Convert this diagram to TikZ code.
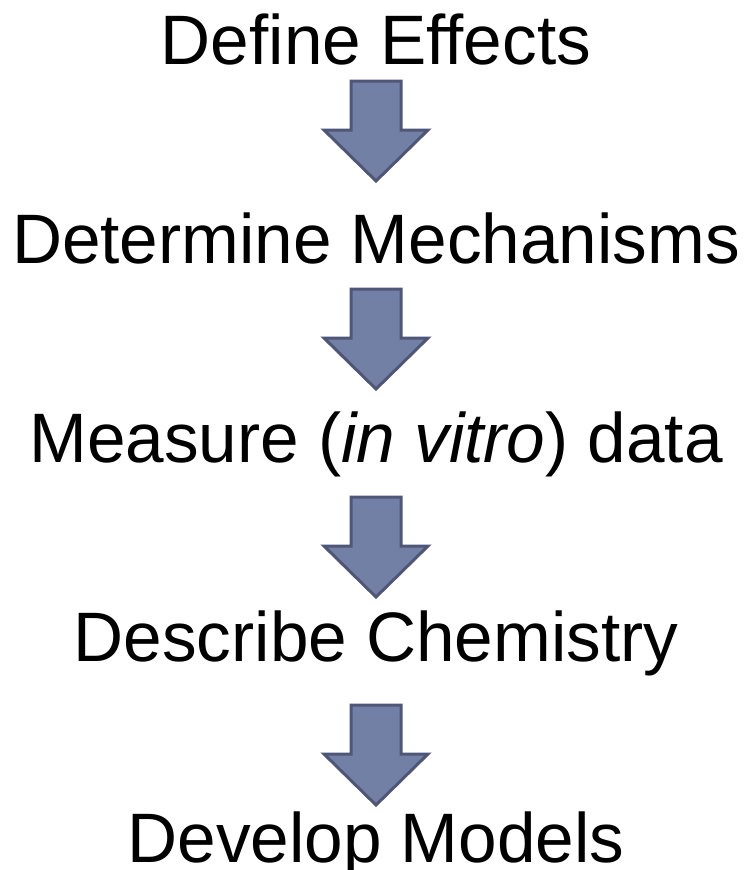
\documentclass[tikz,border=0pt]{standalone}
\usepackage{fontspec}
\setmainfont{Liberation Sans}[FakeStretch=0.99]
\definecolor{arrowfill}{RGB}{115,128,166}
\definecolor{arrowline}{RGB}{78,87,120}
\begin{document}
\begin{tikzpicture}[x=1pt,y=1pt,
  label/.style={anchor=base,inner sep=0pt,font=\fontsize{70}{84}\selectfont},
  blockarrow/.style={fill=arrowfill,draw=arrowline,line width=3pt,line join=miter}]
\useasboundingbox (0,0) rectangle (745,-870);
\node[label] (t1) at (376,-64) {Define Effects};
\node[label] (t2) at (376,-263) {Determine Mechanisms};
\node[label] (t3) at (376,-462) {Measure (\textit{in vitro}) data};
\node[label] (t4) at (376,-661) {Describe Chemistry};
\node[label] (t5) at (376,-862) {Develop Models};
\foreach \t in {81,289,497,705}{
  \draw[blockarrow] (351,-\t) -- (401,-\t) -- (401,-\t-49) -- (428,-\t-49)
    -- (376,-\t-100) -- (324,-\t-49) -- (351,-\t-49) -- cycle;
}
\end{tikzpicture}
\end{document}
